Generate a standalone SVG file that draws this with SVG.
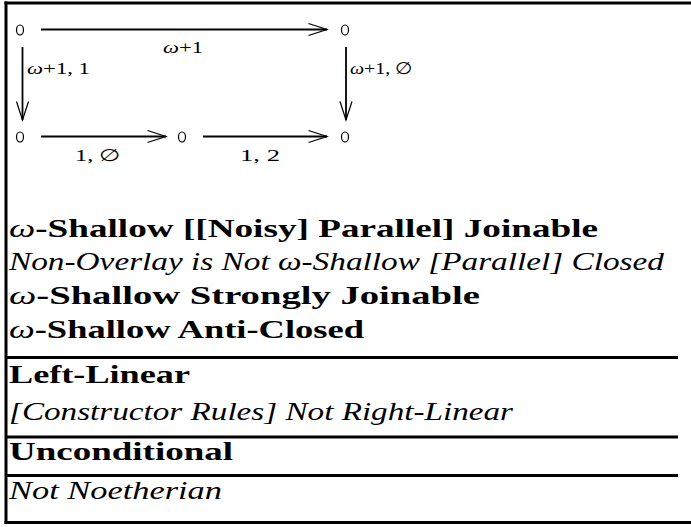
<svg xmlns="http://www.w3.org/2000/svg" width="691" height="527" viewBox="0 0 691 527">
<style>
.node{fill:none;stroke:#000;stroke-width:1.2}
.edge{stroke:#000;stroke-width:1.8;fill:none}
.lbl{font-family:"Liberation Serif",serif;font-size:17px;fill:#000}
.m{font-style:italic}
.t{font-family:"Liberation Serif",serif;font-size:26px;fill:#000}
.b{font-weight:bold}
.i{font-style:italic}
.rule{stroke:#000;stroke-width:3}
</style>
<defs>
<marker id="ah" markerUnits="userSpaceOnUse" markerWidth="22" markerHeight="16" refX="19" refY="7" orient="auto" viewBox="0 0 22 14">
<path d="M0.5,1 L19,7 L0.5,13" fill="none" stroke="#000" stroke-width="1.2"/>
</marker>
</defs>
<rect x="0" y="0" width="691" height="527" fill="#fff"/>
<g id="frame">
<line class="rule" x1="4.5" y1="3" x2="691" y2="3"/>
<line class="rule" x1="6" y1="1.5" x2="6" y2="524"/>
<line class="rule" x1="4.5" y1="522.5" x2="691" y2="522.5"/>
</g>
<g id="n1"><ellipse class="node" cx="20" cy="30" rx="3.5" ry="5"/></g>
<g id="n2"><ellipse class="node" cx="345" cy="30" rx="3.5" ry="5"/></g>
<g id="n3"><ellipse class="node" cx="20" cy="137" rx="3.5" ry="5"/></g>
<g id="n4"><ellipse class="node" cx="182" cy="137" rx="3.5" ry="5"/></g>
<g id="n5"><ellipse class="node" cx="345" cy="137" rx="3.5" ry="5"/></g>
<g id="connectors">
<line class="edge" x1="41" y1="29.5" x2="327" y2="29.5" marker-end="url(#ah)"/>
<line class="edge" x1="22.5" y1="47" x2="22.5" y2="120" marker-end="url(#ah)"/>
<line class="edge" x1="346" y1="47" x2="346" y2="120" marker-end="url(#ah)"/>
<line class="edge" x1="41" y1="136.5" x2="166" y2="136.5" marker-end="url(#ah)"/>
<line class="edge" x1="203" y1="136.5" x2="327" y2="136.5" marker-end="url(#ah)"/>
<text class="lbl" x="163" y="53" textLength="40" lengthAdjust="spacingAndGlyphs"><tspan class="m">ω</tspan>+1</text>
<text class="lbl" x="27" y="74" textLength="63" lengthAdjust="spacingAndGlyphs"><tspan class="m">ω</tspan>+1, 1</text>
<text class="lbl" x="350" y="74" textLength="63" lengthAdjust="spacingAndGlyphs"><tspan class="m">ω</tspan>+1, ∅</text>
<text class="lbl" x="75" y="161" textLength="46" lengthAdjust="spacingAndGlyphs">1, ∅</text>
<text class="lbl" x="240" y="161" textLength="40" lengthAdjust="spacingAndGlyphs">1, 2</text>
</g>
<g id="props">
<text class="t" x="9" y="237" textLength="589" lengthAdjust="spacingAndGlyphs"><tspan class="i">ω</tspan><tspan class="b">-Shallow [[Noisy] Parallel] Joinable</tspan></text>
<text class="t i" x="9" y="270" textLength="655" lengthAdjust="spacingAndGlyphs">Non-Overlay is Not ω-Shallow [Parallel] Closed</text>
<text class="t" x="9" y="304" textLength="471" lengthAdjust="spacingAndGlyphs"><tspan class="i">ω</tspan><tspan class="b">-Shallow Strongly Joinable</tspan></text>
<text class="t" x="9" y="338" textLength="355" lengthAdjust="spacingAndGlyphs"><tspan class="i">ω</tspan><tspan class="b">-Shallow Anti-Closed</tspan></text>
<line class="rule" x1="5" y1="357.5" x2="678" y2="357.5"/>
<text class="t b" x="9" y="383" textLength="181" lengthAdjust="spacingAndGlyphs">Left-Linear</text>
<text class="t i" x="9" y="420" textLength="504" lengthAdjust="spacingAndGlyphs">[Constructor Rules] Not Right-Linear</text>
<line class="rule" x1="5" y1="437" x2="678" y2="437"/>
<text class="t b" x="9" y="460" textLength="224" lengthAdjust="spacingAndGlyphs">Unconditional</text>
<line class="rule" x1="5" y1="475.5" x2="678" y2="475.5"/>
<text class="t i" x="9" y="499" textLength="213" lengthAdjust="spacingAndGlyphs">Not Noetherian</text>
</g>
</svg>
